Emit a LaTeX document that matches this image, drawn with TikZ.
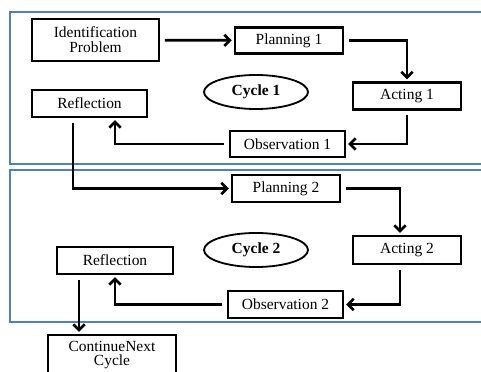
\documentclass[tikz,border=0pt]{standalone}
\usepackage{fontspec}
\setmainfont{Liberation Serif}
\usetikzlibrary{calc,positioning,shapes,arrows.meta}
\definecolor{frameblue}{RGB}{79,129,189}
\begin{document}
\begin{tikzpicture}[x=0.025cm,y=-0.025cm,>={Straight Barb[length=4pt,width=8pt]},
        font=\fontsize{11}{10.5}\selectfont,
        box/.style={draw,line width=1.5pt,align=center,inner sep=1pt,minimum height=0.65cm},
        cyc/.style={ellipse,draw,line width=1.3pt,minimum width=2.6cm,minimum height=0.85cm,font=\fontsize{11}{10.5}\selectfont\bfseries},
        flow/.style={->,line width=1.9pt,shorten <=3.5pt,shorten >=1.5pt},
        frame/.style={draw=frameblue,line width=1.6pt}]
        \clip (0,0) rectangle (481,372);
        \draw [frame] (10,12) rectangle (500,164);
        \draw [frame] (10,170) rectangle (500,322);
        \node [box,minimum width=3.175cm,minimum height=1.05cm] (idprob) at (95.5,40) {Identification\\Problem};
        \node [box,minimum width=2.7cm] (plan1) at (289,40.5) {Planning 1};
        \node [box,minimum width=2.7cm,minimum height=0.675cm] (act1) at (407,96) {Acting 1};
        \node [box,minimum width=2.875cm] (obs1) at (287.5,144) {Observation 1};
        \node [box,minimum width=2.875cm,minimum height=0.675cm] (refl1) at (89.5,103.5) {Reflection};
        \node [cyc] (cyc1) at (256,92) {Cycle 1};
        \node [box,minimum width=2.7cm,minimum height=0.675cm] (plan2) at (286,188.5) {Planning 2};
        \node [box,minimum width=2.7cm,minimum height=0.7cm] (act2) at (407,250) {Acting 2};
        \node [box,minimum width=2.875cm,minimum height=0.675cm] (obs2) at (285.5,304.5) {Observation 2};
        \node [box,minimum width=2.9cm,minimum height=0.675cm] (refl2) at (115,260.5) {Reflection};
        \node [cyc] (cyc2) at (256,250) {Cycle 2};
        \node [box,minimum width=3.2cm,minimum height=1cm] (cont) at (112,355) {ContinueNext\\Cycle};
        \coordinate (r1out) at ($(refl1.south)+(-16.5,0)$);
        \coordinate (r2out) at ($(refl2.south)+(-36,0)$);
        \draw [flow] (idprob) -- (plan1);
        \draw [flow] (plan1) -| (act1);
        \draw [flow] (act1) |- (obs1);
        \draw [flow] (obs1) -| ($(refl1.south)+(25.5,0)$);
        \draw [flow] (r1out) |- (plan2);
        \draw [flow] (plan2) -| ($(act2.north)+(-7,0)$);
        \draw [flow] ($(act2.south)+(-7,0)$) |- (obs2);
        \draw [flow] (obs2) -| (refl2);
        \draw [flow] (r2out) -- (r2out |- cont.north);
\end{tikzpicture}
\end{document}
